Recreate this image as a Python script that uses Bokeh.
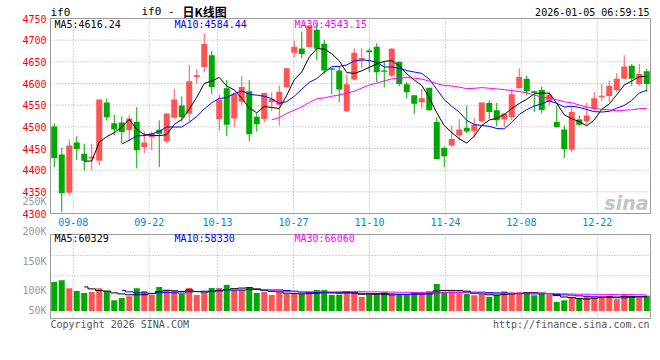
import numpy as np
from bokeh.plotting import figure
from bokeh.models import ColumnDataSource, Label, Range1d
from bokeh.core.properties import value
from bokeh.embed import file_html
from bokeh.resources import INLINE

# ---------------- data ----------------
dates = (["09-03", "09-04", "09-05", "09-08", "09-09", "09-10", "09-11", "09-12", "09-15", "09-16",
          "09-17", "09-18", "09-19", "09-22", "09-23", "09-24", "09-25", "09-26", "09-29", "09-30",
          "10-09", "10-10", "10-13", "10-14", "10-15", "10-16", "10-17", "10-20", "10-21", "10-22",
          "10-23", "10-24", "10-27", "10-28", "10-29", "10-30", "10-31", "11-03", "11-04", "11-05",
          "11-06", "11-07", "11-10", "11-11", "11-12", "11-13", "11-14", "11-17", "11-18", "11-19",
          "11-20", "11-21", "11-24", "11-25", "11-26", "11-27", "11-28", "12-01", "12-02", "12-03",
          "12-04", "12-05", "12-08", "12-09", "12-10", "12-11", "12-12", "12-15", "12-16", "12-17",
          "12-18", "12-19", "12-22", "12-23", "12-24", "12-25", "12-26", "12-29", "12-30", "12-31"])

opens = [4501, 4436, 4348, 4464, 4438, 4427, 4422, 4556, 4508, 4510,
         4492, 4512, 4453, 4476, 4493, 4467, 4521, 4549, 4530, 4615,
         4638, 4665, 4518, 4589, 4519, 4558, 4582, 4523, 4518, 4557,
         4551, 4591, 4671, 4681, 4684, 4724, 4692, 4635, 4630, 4536,
         4609, 4655, 4676, 4685, 4630, 4618, 4650, 4598, 4573, 4557,
         4590, 4511, 4451, 4457, 4480, 4498, 4490, 4513, 4555, 4538,
         4517, 4522, 4589, 4611, 4582, 4585, 4558, 4511, 4494, 4447,
         4517, 4513, 4542, 4568, 4571, 4585, 4611, 4641, 4598, 4628]
highs = [4508, 4452, 4471, 4478, 4461, 4461, 4563, 4565, 4528, 4524,
         4528, 4545, 4489, 4489, 4515, 4531, 4588, 4570, 4642, 4633,
         4716, 4675, 4575, 4608, 4577, 4618, 4608, 4531, 4578, 4580,
         4595, 4635, 4699, 4720, 4735, 4738, 4701, 4636, 4640, 4621,
         4681, 4681, 4681, 4693, 4651, 4682, 4650, 4603, 4573, 4588,
         4590, 4522, 4455, 4503, 4518, 4549, 4520, 4556, 4561, 4555,
         4531, 4588, 4635, 4618, 4584, 4593, 4580, 4549, 4503, 4547,
         4526, 4555, 4580, 4599, 4607, 4624, 4665, 4645, 4645, 4634]
lows = [4407, 4303, 4341, 4423, 4399, 4401, 4411, 4515, 4480, 4462,
        4466, 4404, 4439, 4446, 4407, 4462, 4518, 4512, 4512, 4600,
        4626, 4576, 4491, 4478, 4499, 4551, 4467, 4489, 4511, 4536,
        4503, 4591, 4661, 4658, 4683, 4653, 4622, 4575, 4557, 4534,
        4607, 4636, 4626, 4603, 4591, 4615, 4594, 4565, 4530, 4542,
        4537, 4426, 4407, 4453, 4468, 4485, 4475, 4508, 4518, 4501,
        4501, 4516, 4589, 4572, 4534, 4531, 4549, 4499, 4428, 4441,
        4503, 4505, 4538, 4559, 4557, 4580, 4610, 4595, 4595, 4580]
closes = [4428, 4347, 4457, 4449, 4422, 4431, 4563, 4522, 4494, 4488,
          4519, 4446, 4464, 4485, 4484, 4531, 4563, 4522, 4605, 4619,
          4691, 4592, 4563, 4505, 4576, 4592, 4483, 4506, 4578, 4564,
          4581, 4635, 4685, 4668, 4734, 4680, 4630, 4632, 4586, 4598,
          4671, 4659, 4672, 4626, 4627, 4680, 4599, 4580, 4553, 4566,
          4538, 4426, 4432, 4472, 4494, 4489, 4505, 4556, 4534, 4515,
          4531, 4575, 4615, 4582, 4578, 4539, 4574, 4499, 4448, 4534,
          4505, 4526, 4566, 4572, 4595, 4611, 4639, 4611, 4622, 4599]
volumes = [120400, 127400, 94200, 83000, 74700, 78900, 94200, 83000, 44400, 54000,
           61000, 94200, 83000, 66400, 99600, 87200, 83000, 70600, 95500, 66400,
           75900, 95500, 95500, 107900, 88400, 88400, 99600, 74700, 78900, 66400,
           78900, 70600, 70600, 70600, 70600, 87200, 87200, 66400, 67600, 77600,
           77600, 58100, 66400, 66400, 77600, 66400, 66400, 66400, 77600, 77600,
           81800, 112100, 77600, 77600, 73500, 70600, 65200, 69300, 58100, 67600,
           81800, 77600, 77600, 77600, 65200, 73500, 69300, 37400, 44400, 55200,
           51000, 61000, 55200, 61000, 63500, 48600, 69300, 61000, 55200, 63500]

tick_dates = ["09-08", "09-22", "10-13", "10-27", "11-10", "11-24", "12-08", "12-22"]
price_ticks = [4300, 4350, 4400, 4450, 4500, 4550, 4600, 4650, 4700, 4750]
vol_tick_labels = ["250K", "200K", "150K", "100K", "50K"]
price_legend = ["MA5:4616.24", "MA10:4584.44", "MA30:4543.15"]
vol_legend = ["MA5:60329", "MA10:58330", "MA30:66060"]
symbol = "if0"
title_a = "if0 -"
title_b = "日K线图"
stamp = "2026-01-05 06:59:15"
footer_left = "Copyright 2026 SINA.COM"
footer_right = "http://finance.sina.com.cn"

# ---------------- style ----------------
RED = "#ff5454"
GREEN = "#00a800"
MA_COLORS = ["#000000", "#0000ff", "#ff00ff"]
GRID = "#a8a8a8"
FRAME = "#9a9a9a"
MONO = "DejaVu Sans Mono"
FS = "10px"

N = len(dates)
x = np.arange(N)
o = np.array(opens, float)
h = np.array(highs, float)
l = np.array(lows, float)
c = np.array(closes, float)
v = np.array(volumes, float)
up = c >= o
colors = np.where(up, RED, GREEN)
top = np.maximum(o, c)
bot = np.minimum(o, c)
bot = np.where(top - bot < 2.0, top - 2.0, bot)


def ma(arr, n):
    out = np.full(len(arr), np.nan)
    cs = np.cumsum(arr)
    out[n - 1:] = (cs[n - 1:] - np.concatenate([[0], cs[:-n]])) / n
    return out


# ---------------- layout (pixel geometry of the two panels) ----------------
W, H = 656, 340
LEFT, RIGHT = 50, 650            # panel x extent
P_TOP, P_BOT = 18, 213           # price panel y extent
V_TOP, V_BOT = 234, 318          # volume panel y extent
V_ZERO = 310.5                   # baseline of volume bars
PX = (RIGHT - LEFT) / N
P_MIN, P_MAX = price_ticks[0], price_ticks[-1]
PPX = (P_MAX - P_MIN) / (P_BOT - P_TOP)
VPX = 4150.0


def xd(px):
    return (px - LEFT) / PX - 0.5


def pd_(py):
    return P_MIN + (P_BOT - py) * PPX


def vd(py):
    return (V_ZERO - py) * VPX


# gridlines follow Sina's (N-1)-based spacing
grid_pos = [dates.index(d) * N / (N - 1) - 0.5 for d in tick_dates]

src = ColumnDataSource(dict(x=x, o=o, h=h, l=l, c=c, top=top, bot=bot, color=colors, v=v,
                            ma5=ma(c, 5), ma10=ma(c, 10), ma30=ma(c, 30),
                            vma5=ma(v, 5), vma10=ma(v, 10), vma30=ma(v, 30)))

p = figure(width=W, height=H, title=None, x_range=Range1d(xd(0), xd(W)),
           y_range=Range1d(pd_(H), pd_(0)), output_backend="svg", toolbar_location=None,
           x_axis_location=None, y_axis_location=None, min_border=0,
           background_fill_color="white", border_fill_color="white")
p.extra_y_ranges = {"vol": Range1d(vd(H), vd(0))}
p.outline_line_color = None
p.xgrid.visible = False
p.ygrid.visible = False

x0, x1 = -0.5, N - 0.5

# ---- price panel grid & frame ----
inner = price_ticks[1:-1]
p.segment(x0=[x0] * len(inner), y0=inner, x1=[x1] * len(inner), y1=inner,
          line_color=GRID, line_dash="1 2", line_width=1)
p.segment(x0=grid_pos, y0=[P_MIN] * len(grid_pos), x1=grid_pos, y1=[P_MAX] * len(grid_pos),
          line_color=GRID, line_dash="1 2", line_width=1)
p.quad(left=[x0], right=[x1], bottom=[P_MIN], top=[P_MAX], fill_color=None,
       line_color=FRAME, line_width=1)

# ---- candles ----
p.segment(x0="x", y0="h", x1="x", y1="l", color="color", line_width=1, source=src)
p.vbar(x="x", width=0.8, top="top", bottom="bot", fill_color="color", line_color=None, source=src)
for key, col in zip(["ma5", "ma10", "ma30"], MA_COLORS):
    p.line("x", key, color=col, line_width=1, source=src)

# ---- price axis labels ----
p.text(x=[xd(46)] * len(price_ticks), y=price_ticks, text=[str(t) for t in price_ticks],
       text_color="#ff0000", text_font=value(MONO), text_font_size=FS,
       text_align="right", text_baseline="middle")
p.text(x=grid_pos, y=[pd_(221.5)] * len(grid_pos), text=tick_dates, text_color="#0a82d2",
       text_font=value(MONO), text_font_size=FS, text_align="center", text_baseline="middle")

# ---- texts ----
for i, (txt, col) in enumerate(zip(price_legend, MA_COLORS)):
    p.add_layout(Label(x=xd(54 + 120 * i), y=pd_(24), text=txt, text_color=col,
                       text_font=MONO, text_font_size=FS, text_baseline="middle"))
p.add_layout(Label(x=xd(50), y=pd_(12), text=symbol, text_color="#000000",
                   text_font=MONO, text_font_size="11px", text_baseline="middle"))
p.add_layout(Label(x=xd(141), y=pd_(11), text=title_a, text_color="#000000",
                   text_font=MONO, text_font_size="11px", text_baseline="middle"))
p.add_layout(Label(x=xd(182), y=pd_(11), text=title_b, text_color="#000000",
                   text_font="Noto Sans CJK SC", text_font_size="12px", text_font_style="bold",
                   text_baseline="middle"))
p.add_layout(Label(x=xd(649), y=pd_(12), text=stamp, text_color="#000000",
                   text_font=MONO, text_font_size=FS, text_baseline="middle", text_align="right"))
p.add_layout(Label(x=xd(648), y=pd_(202), text="sina", text_color="#c4c4c4",
                   text_font="DejaVu Sans", text_font_size="19px", text_font_style="bold italic",
                   text_baseline="middle", text_align="right"))

# ---- volume panel grid & frame ----
vgrid = [vd(255), vd(275.3), vd(295.6)]
p.segment(x0=[x0] * 3, y0=vgrid, x1=[x1] * 3, y1=vgrid, line_color=GRID, line_dash="1 2",
          line_width=1, y_range_name="vol")
p.segment(x0=grid_pos, y0=[vd(V_BOT)] * len(grid_pos), x1=grid_pos,
          y1=[vd(V_TOP)] * len(grid_pos), line_color=GRID, line_dash="1 2", line_width=1,
          y_range_name="vol")
p.quad(left=[x0], right=[x1], bottom=[vd(V_BOT)], top=[vd(V_TOP)], fill_color=None,
       line_color=FRAME, line_width=1, y_range_name="vol")

p.vbar(x="x", width=0.8, top="v", bottom=0, fill_color="color", line_color=None, source=src,
       y_range_name="vol")
for key, col in zip(["vma5", "vma10", "vma30"], MA_COLORS):
    p.step("x", key, color=col, line_width=1, mode="center", source=src, y_range_name="vol")

for i, (txt, col) in enumerate(zip(vol_legend, MA_COLORS)):
    p.add_layout(Label(x=xd(54 + 120 * i), y=vd(238), y_range_name="vol", text=txt,
                       text_color=col, text_font=MONO, text_font_size=FS,
                       text_baseline="middle"))
vol_label_py = [200.7, 230.7, 261, 290, 310]
p.text(x=[xd(46)] * len(vol_tick_labels), y=[vd(py) for py in vol_label_py],
       text=vol_tick_labels, text_color="#999999", text_font=value(MONO), text_font_size=FS,
       text_align="right", text_baseline="middle", y_range_name="vol")
p.add_layout(Label(x=xd(50), y=vd(324), y_range_name="vol", text=footer_left,
                   text_color="#555555", text_font=MONO, text_font_size=FS,
                   text_baseline="middle"))
p.add_layout(Label(x=xd(649), y=vd(324), y_range_name="vol", text=footer_right,
                   text_color="#555555", text_font=MONO, text_font_size=FS,
                   text_baseline="middle", text_align="right"))

open("out.html", "w").write(file_html(p, INLINE))
